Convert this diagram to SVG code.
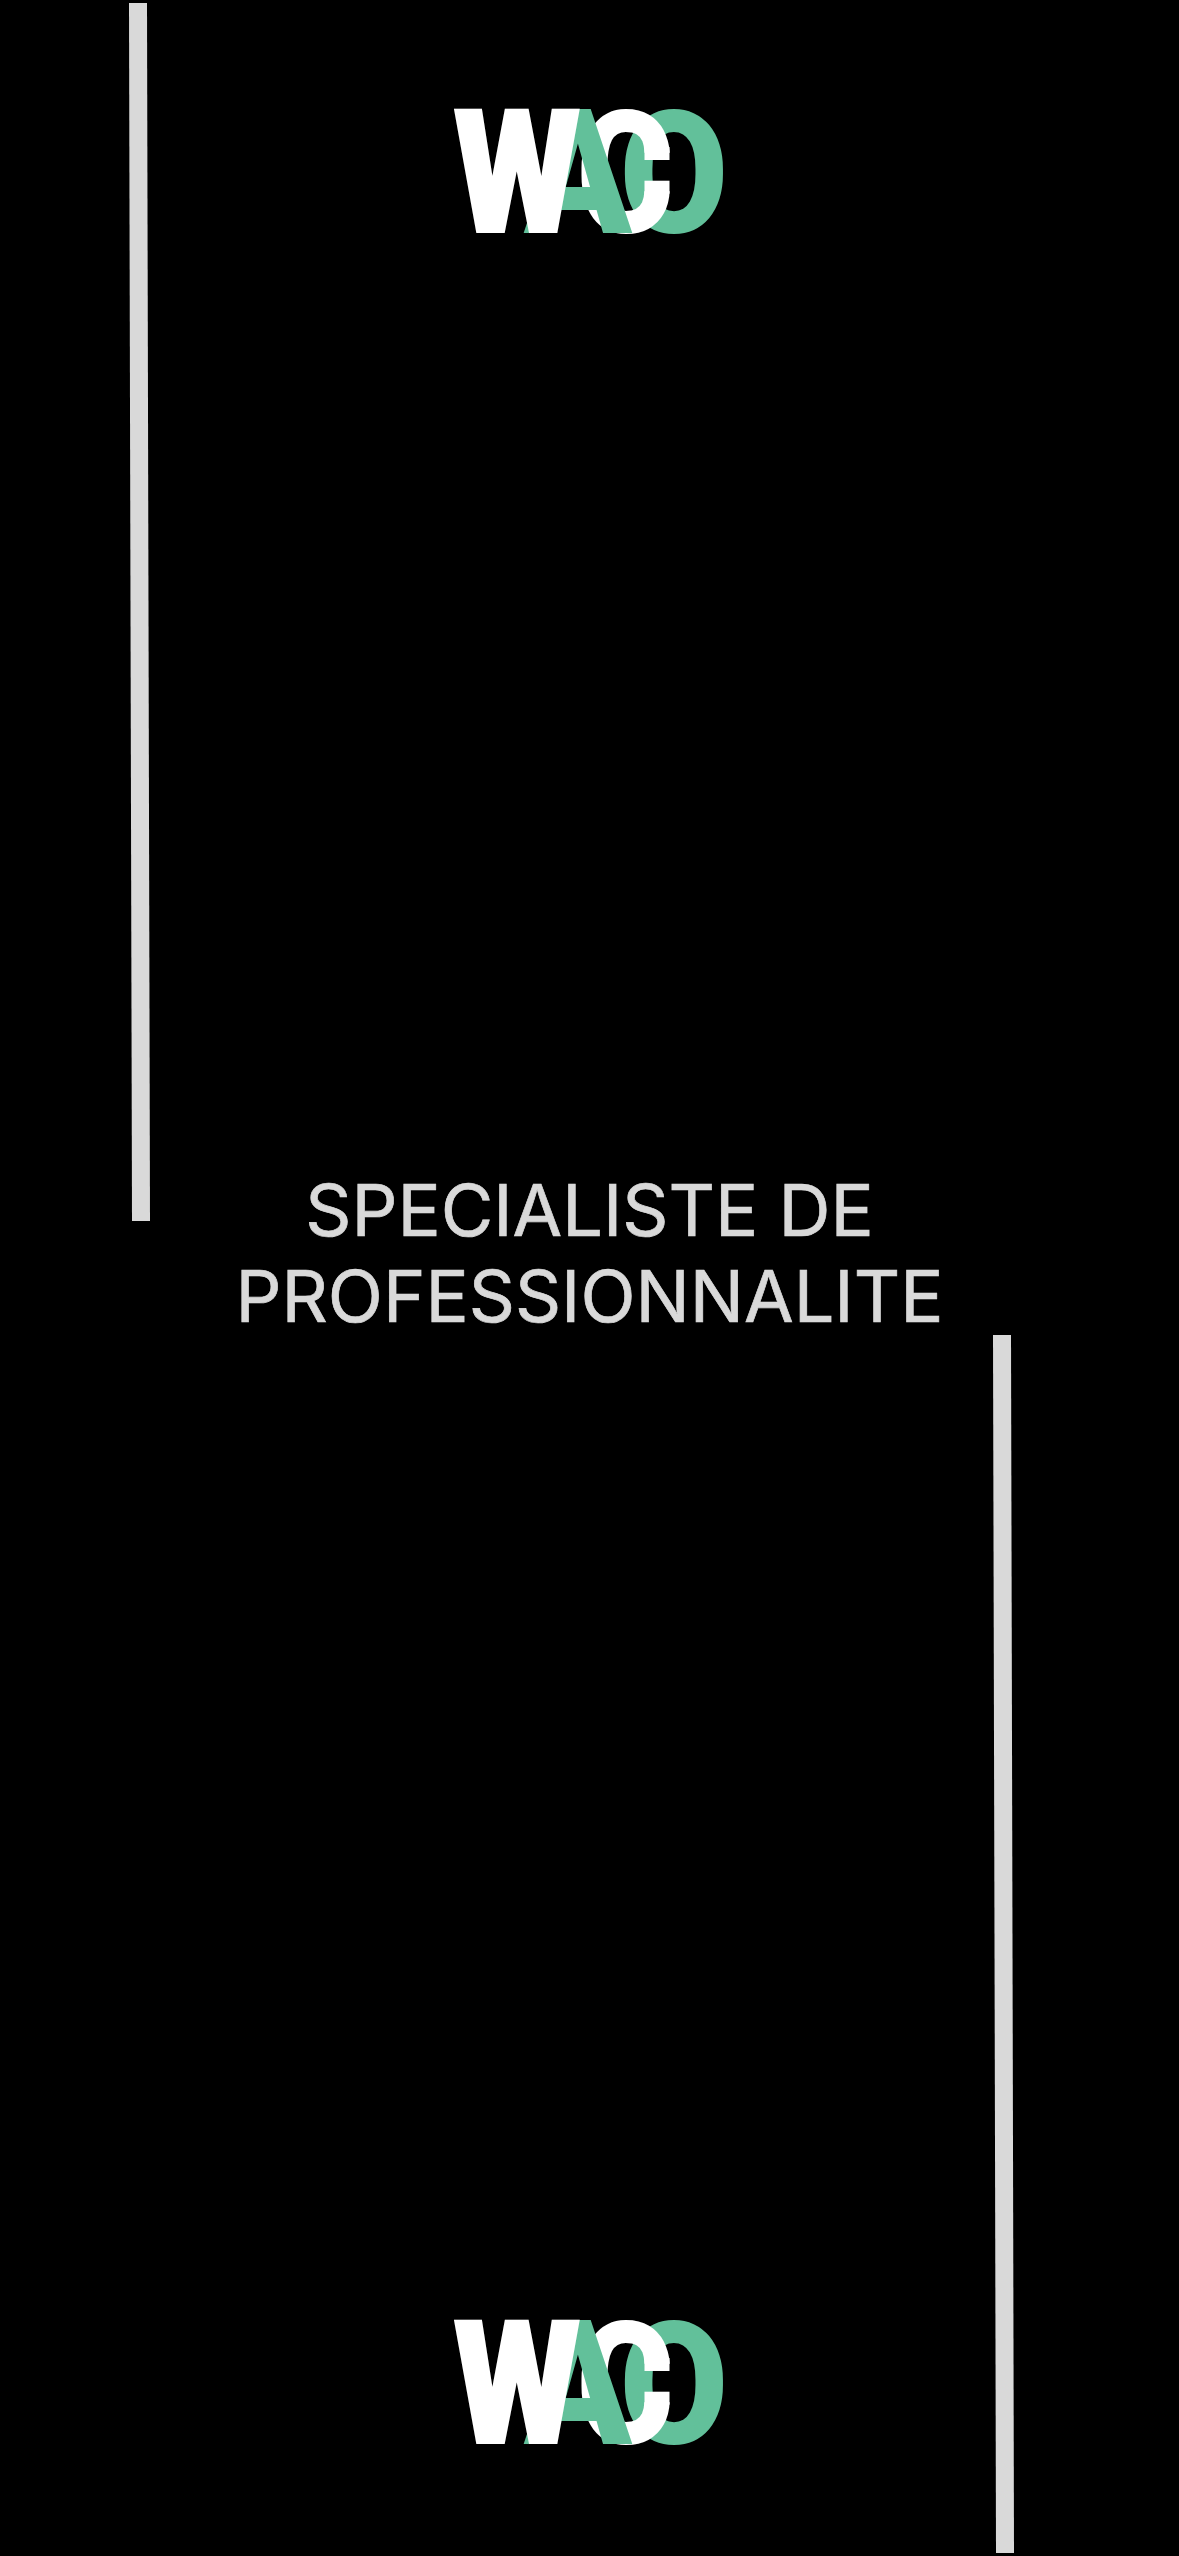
<svg xmlns="http://www.w3.org/2000/svg" width="1179" height="2556" viewBox="0 0 1179 2556">
<style>
.g{fill:#62c09a}.w{fill:#fff}
.l{font-family:Roboto,Inter,"Liberation Sans",sans-serif;font-weight:900;font-size:170px}
.la{font-size:174px}
.lw{font-size:168px;stroke:#fff;stroke-width:4px}
.t{font-family:Inter,"Liberation Sans",sans-serif;font-size:72px;font-weight:400;fill:#d9d9d9;stroke:#d9d9d9;stroke-width:.7px;text-anchor:middle}
.b{fill:#d9d9d9}
</style>
<defs>
<g id="logo">
<text class="l g" transform="translate(619.5,232) scale(.928,1)">O</text>
<g class="w"><text class="l" transform="translate(576.4,232) scale(.87,1)">C</text>
<rect x="644.5" y="147" width="25" height="13"/><rect x="644.5" y="180.7" width="25" height="13"/></g>
<text class="l la g" transform="translate(524,233) scale(.91,1)">A</text>
<text class="l lw w" transform="translate(454.4,231) scale(.856,1)">W</text>
</g>
</defs>
<rect width="1179" height="2556" fill="#000"/>
<polygon class="b" points="129,3 147,3 150,1221 132,1221"/>
<polygon class="b" points="993,1335 1011,1335 1014,2553 996,2553"/>
<g id="logo-top"><use href="#logo"/></g>
<g id="title">
<text class="t" x="589.5" y="1236">SPECIALISTE DE</text>
<text class="t" x="589.5" y="1322.4">PROFESSIONNALITE</text>
</g>
<g id="logo-bottom"><use href="#logo" y="2211"/></g>
</svg>
